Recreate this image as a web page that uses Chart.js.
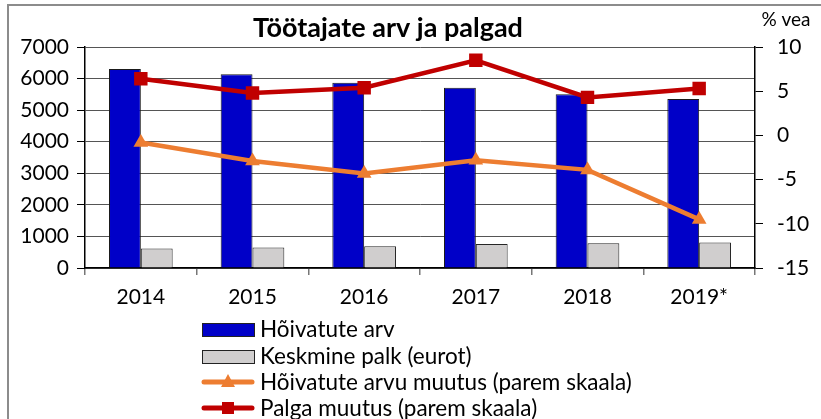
<!DOCTYPE html>
<html>
<head>
<meta charset="utf-8">
<title>Töötajate arv ja palgad</title>
<script src="https://cdn.jsdelivr.net/npm/chart.js"></script>
<style>
  body { margin: 0; background: #fff; }
  #wrap { position: relative; width: 821px; height: 419px; }
</style>
</head>
<body>
<div id="wrap"><canvas id="chart" width="821" height="419"></canvas></div>
<script>
const years = ['2014', '2015', '2016', '2017', '2018', '2019*'];
const hoivatuteArv = [6300, 6140, 5870, 5710, 5500, 5350];
const keskminePalk = [620, 650, 685, 760, 780, 810];
const hoivatuteMuutus = [-0.8, -2.9, -4.3, -2.8, -3.9, -9.5];
const palgaMuutus = [6.4, 4.8, 5.4, 8.5, 4.3, 5.3];

const FONT = 'Lato, "Open Sans", sans-serif';
const TICK_FONT = { family: FONT, size: 21 };

// title, unit label, frame and the stacked legend under the axis
const decor = {
  id: 'decor',
  afterDraw(chart) {
    const ctx = chart.ctx;
    ctx.save();
    ctx.strokeStyle = '#8c8c8c';
    ctx.lineWidth = 2;
    ctx.strokeRect(8, 5, 900, 600);

    ctx.fillStyle = '#000';
    ctx.textBaseline = 'middle';
    ctx.textAlign = 'center';
    ctx.font = 'bold 27px ' + FONT;
    ctx.fillText('Töötajate arv ja palgad', 388, 28);
    ctx.font = '19px ' + FONT;
    ctx.fillText('% vea', 786, 20);

    const x0 = 202, x1 = 254, tx = 260;
    const rows = [329, 356, 382, 408];
    ctx.textAlign = 'left';
    ctx.font = '22.5px ' + FONT;
    chart.data.datasets.forEach((ds, i) => {
      const y = rows[i];
      if (ds.type === 'line') {
        ctx.strokeStyle = ds.borderColor;
        ctx.lineWidth = 5;
        ctx.lineCap = 'round';
        ctx.beginPath();
        ctx.moveTo(x0 + 2, y);
        ctx.lineTo(x1 - 2, y);
        ctx.stroke();
        ctx.fillStyle = ds.borderColor;
        const cx = (x0 + x1) / 2;
        ctx.beginPath();
        if (ds.pointStyle === 'triangle') {
          ctx.moveTo(cx, y - 8);
          ctx.lineTo(cx + 7, y + 5);
          ctx.lineTo(cx - 7, y + 5);
          ctx.closePath();
        } else {
          ctx.rect(cx - 6, y - 6, 12, 12);
        }
        ctx.fill();
      } else {
        ctx.fillStyle = ds.backgroundColor;
        ctx.fillRect(x0, y - 6, x1 - x0, 13);
        ctx.strokeStyle = '#222';
        ctx.lineWidth = 1;
        ctx.strokeRect(x0 + 0.5, y - 6 + 0.5, x1 - x0, 13);
      }
      ctx.fillStyle = '#000';
      ctx.fillText(ds.label, tx, y + 1);
    });
    ctx.restore();
  }
};

new Chart(document.getElementById('chart'), {
  type: 'bar',
  data: {
    labels: years,
    datasets: [
      {
        label: 'Hõivatute arv',
        data: hoivatuteArv,
        backgroundColor: '#0000c8',
        borderColor: '#1a1a1a',
        borderWidth: 1,
        yAxisID: 'y',
        order: 2
      },
      {
        label: 'Keskmine palk (eurot)',
        data: keskminePalk,
        backgroundColor: '#d0cece',
        borderColor: '#262626',
        borderWidth: 1,
        yAxisID: 'y',
        order: 2
      },
      {
        type: 'line',
        label: 'Hõivatute arvu muutus (parem skaala)',
        data: hoivatuteMuutus,
        borderColor: '#ed7d31',
        backgroundColor: '#ed7d31',
        borderWidth: 4.5,
        pointStyle: 'triangle',
        pointRadius: 8.5,
        pointBorderWidth: 0,
        tension: 0,
        yAxisID: 'y1',
        order: 1
      },
      {
        type: 'line',
        label: 'Palga muutus (parem skaala)',
        data: palgaMuutus,
        borderColor: '#c00000',
        backgroundColor: '#c00000',
        borderWidth: 4.5,
        pointStyle: 'rect',
        pointRadius: 9.5,
        pointBorderWidth: 0,
        tension: 0,
        yAxisID: 'y1',
        order: 0
      }
    ]
  },
  options: {
    responsive: false,
    animation: false,
    layout: { padding: { left: 0, right: 0, top: 47, bottom: 0 } },
    datasets: {
      bar: { categoryPercentage: 0.57, barPercentage: 1 }
    },
    plugins: {
      legend: { display: false },
      title: { display: false },
      tooltip: { enabled: false }
    },
    scales: {
      x: {
        offset: true,
        grid: { offset: true, drawOnChartArea: false, tickLength: 7, tickColor: '#777', lineWidth: 1.5 },
        border: { color: '#000', width: 1.5 },
        ticks: { color: '#000', font: TICK_FONT, padding: 10, maxRotation: 0 },
        afterFit(s) { s.height = 151; }
      },
      y: {
        position: 'left',
        min: 0,
        max: 7000,
        ticks: { stepSize: 1000, color: '#000', font: TICK_FONT, padding: 8, callback: v => String(v) },
        grid: {
          color: '#555',
          lineWidth: 1,
          borderDash: [2, 1],
          tickLength: 8,
          tickColor: '#000',
          tickBorderDash: []
        },
        border: { color: '#000', width: 1.5, dash: [] },
        afterFit(s) { s.width = 85; }
      },
      y1: {
        position: 'right',
        min: -15,
        max: 10,
        ticks: { stepSize: 5, color: '#000', font: TICK_FONT, padding: 14, callback: v => String(v) },
        grid: { drawOnChartArea: false, tickLength: 8, tickColor: '#000' },
        border: { color: '#000', width: 1.5 },
        afterFit(s) { s.width = 66; }
      }
    }
  },
  plugins: [decor]
});
</script>
</body>
</html>
